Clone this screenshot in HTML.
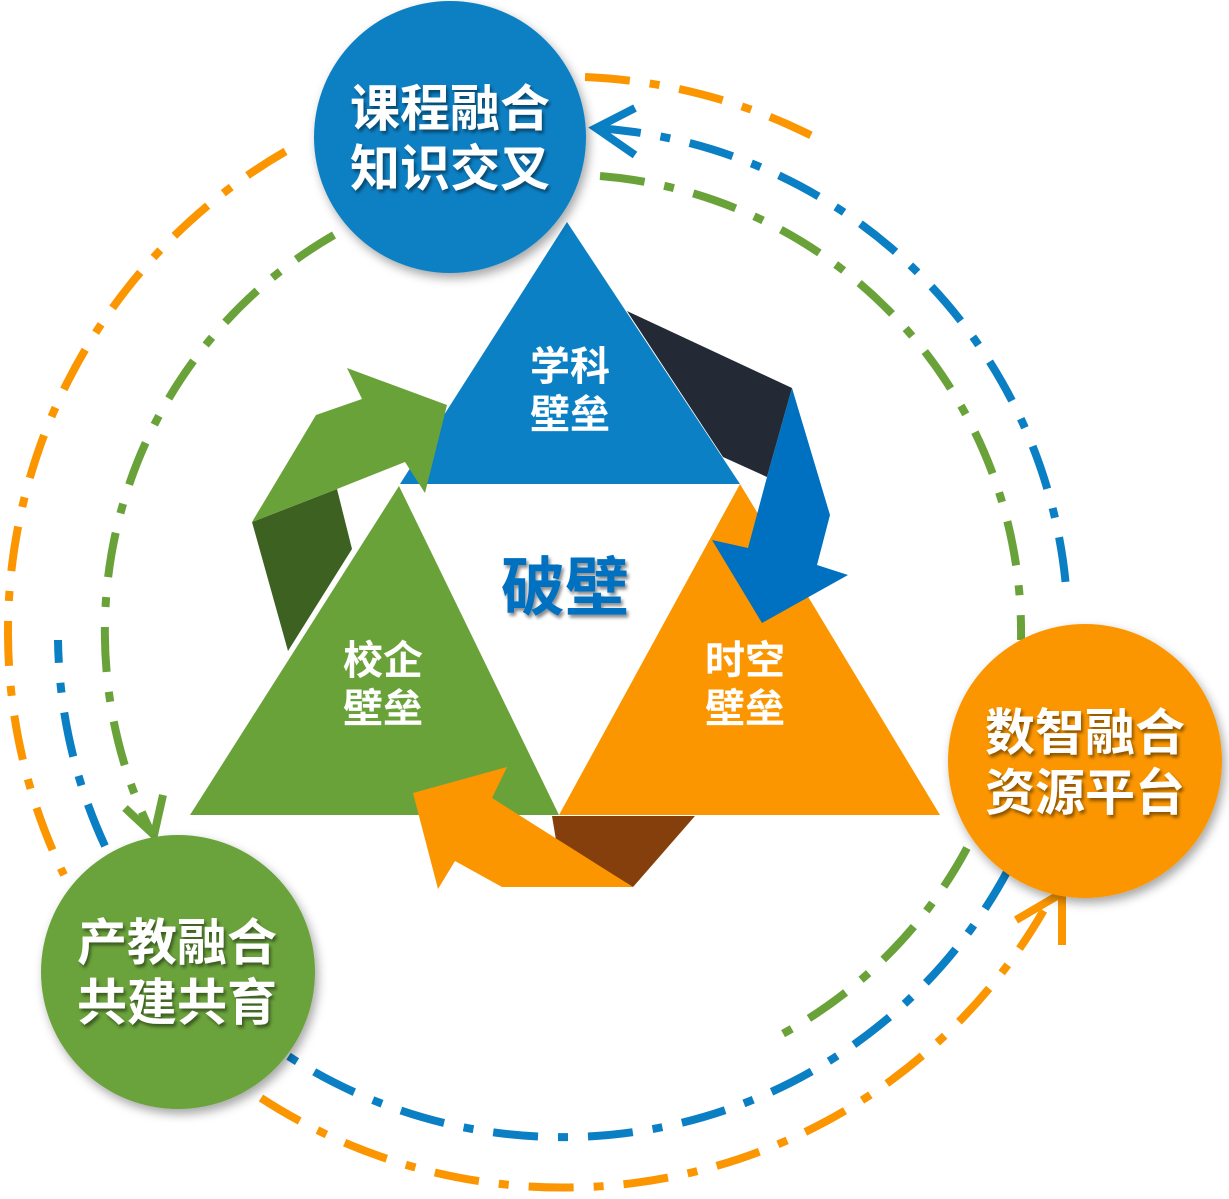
<!DOCTYPE html>
<html><head><meta charset="utf-8"><style>
html,body{margin:0;padding:0;background:#fff;}
svg{display:block;}
.ct{font-family:"Liberation Sans","Noto Sans CJK SC",sans-serif;font-weight:bold;fill:#fff;text-anchor:middle;}
</style></head><body>
<svg width="1229" height="1199" viewBox="0 0 1229 1199" xmlns="http://www.w3.org/2000/svg">
<defs>
<filter id="sh" x="-20%" y="-20%" width="140%" height="140%"><feDropShadow dx="3" dy="5" stdDeviation="5" flood-color="#000" flood-opacity="0.35"/></filter>
<filter id="ts" x="-10%" y="-10%" width="120%" height="130%"><feDropShadow dx="2" dy="3" stdDeviation="1.5" flood-color="#000" flood-opacity="0.45"/></filter>
</defs>
<g fill="none" stroke-width="8" stroke-dasharray="45 20 10 20">
<!-- orange r555 -->
<path d="M585 77 A555 555 0 0 1 820 140" stroke="#fb9600"/>
<path d="M285.5 151.4 A555 555 0 0 0 64 875" stroke="#fb9600"/>
<path d="M261 1098 A555 555 0 0 0 1049 901" stroke="#fb9600"/>
<!-- blue r505 -->
<path d="M596 128 A505 505 0 0 1 1067 600" stroke="#0a7fc4"/>
<path d="M1008 870 A505 505 0 0 1 238 1019" stroke="#0a7fc4"/>
<path d="M105 846 A505 505 0 0 1 58 640" stroke="#0a7fc4"/>
<!-- green r458 -->
<path d="M600 176 A458 458 0 0 1 1021 640" stroke="#6aa23a"/>
<path d="M967 848 A458 458 0 0 1 771 1040" stroke="#6aa23a"/>
<path d="M334 235 A458 458 0 0 0 150 830" stroke="#6aa23a"/>
</g>
<!-- arrowheads on arcs -->
<polyline points="1016,920 1062,893 1062,945" fill="none" stroke="#fb9600" stroke-width="8"/>
<polyline points="635,108 596,128 635,155" fill="none" stroke="#0a7fc4" stroke-width="8"/>
<polyline points="125,808 154,835 163,795" fill="none" stroke="#6aa23a" stroke-width="8"/>

<!-- triangles -->
<polygon points="567,222 400,484 740,484" fill="#0b80c4"/>
<polygon points="399,486 190,815 559,815" fill="#6aa23a"/>
<polygon points="740,484 559,815 940,815" fill="#fb9600"/>

<!-- navy band + blue arrow -->
<polygon points="627,311 792,388 767,477 723,457" fill="#232a35"/>
<polygon points="792,388 830,515 817,565 848,575 762,623 712,540 748,548 767,477" fill="#0070c0"/>
<!-- green arrow -->
<polygon points="252,522 337,489 352,549 288,651" fill="#3d6121"/>
<polygon points="252,522 316,415 362,399 347,368 447,405 425,493 405,462 337,489" fill="#6aa23a"/>
<!-- orange arrow -->
<polygon points="552,816 695,816 633,887 556,840" fill="#843f0c"/>
<polygon points="633,887 502,887 455,861 438,889 413,793 507,767 492,798" fill="#fb9600"/>

<!-- triangle labels -->
<g class="ct" font-size="40">
<text x="570" y="380">学科</text><text x="570" y="428">壁垒</text>
<text x="383" y="674">校企</text><text x="383" y="722">壁垒</text>
<text x="745" y="674">时空</text><text x="745" y="722">壁垒</text>
</g>
<text x="565" y="610" font-family="Liberation Sans,Noto Sans CJK SC,sans-serif" font-weight="bold" font-size="64" fill="#0070c0" text-anchor="middle" filter="url(#ts)">破壁</text>

<!-- circles -->
<circle cx="450" cy="137" r="136" fill="#0b80c4" filter="url(#sh)"/>
<circle cx="1085" cy="761" r="137" fill="#fb9600" filter="url(#sh)"/>
<circle cx="178" cy="972" r="137" fill="#6aa23a" filter="url(#sh)"/>
<g class="ct" font-size="50" filter="url(#ts)">
<text x="450" y="126">课程融合</text><text x="450" y="186">知识交叉</text>
<text x="1085" y="750">数智融合</text><text x="1085" y="810">资源平台</text>
<text x="177" y="960">产教融合</text><text x="177" y="1020">共建共育</text>
</g>
</svg>
</body></html>
